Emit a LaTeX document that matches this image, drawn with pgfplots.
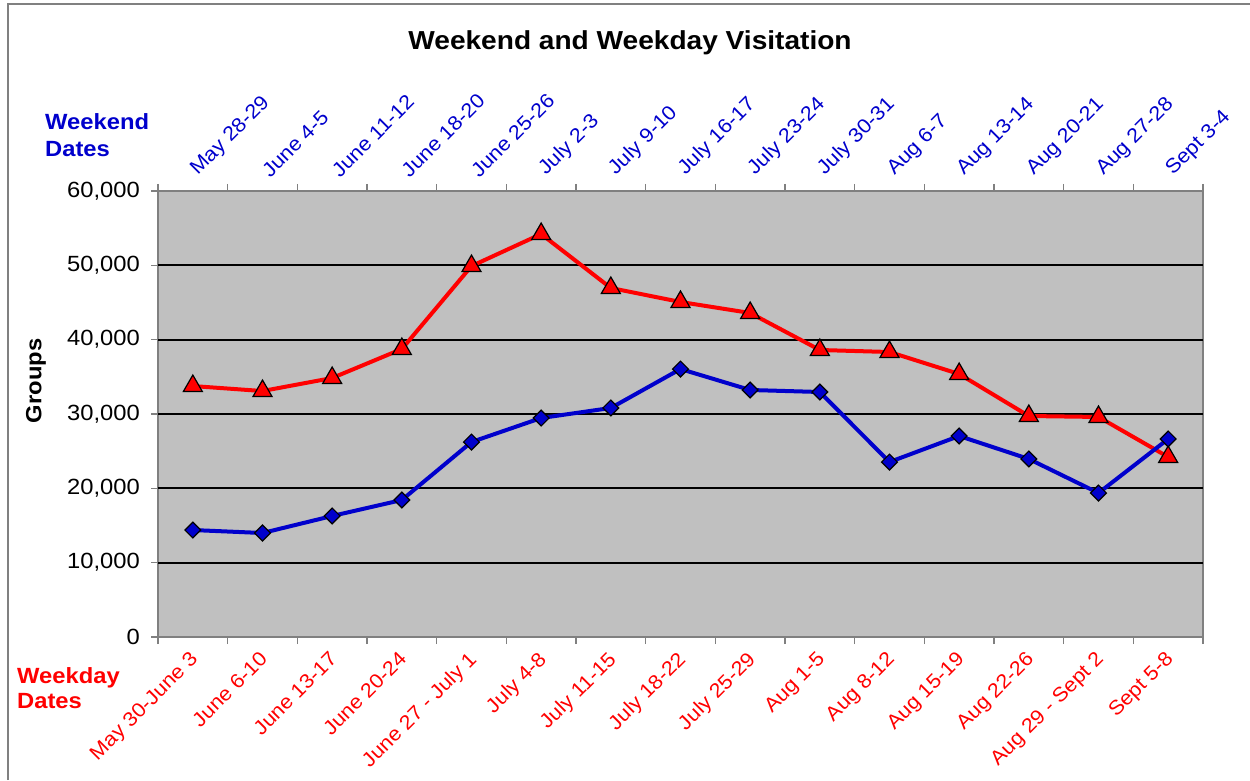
\documentclass[border=0pt]{standalone}
\usepackage{pgfplots}
\pgfplotsset{compat=1.18}
\usepackage{fontspec}
\setmainfont{Liberation Sans}[FakeStretch=1.08]
\definecolor{bgray}{HTML}{C0C0C0}
\definecolor{wblue}{HTML}{0000CC}
\definecolor{axgray}{HTML}{808080}
\begin{document}
\begin{tikzpicture}[x=1pt,y=1pt]
\useasboundingbox (0,0) rectangle (1250,780);
\draw[axgray, line width=2.5pt] (8,0) -- (8,776) -- (1250,776);
\node[font=\fontsize{26}{30}\selectfont\bfseries, anchor=base] at (630,730) {Weekend and Weekday Visitation};
\node[font=\fontsize{22}{24}\selectfont\bfseries, text=wblue, anchor=base west, inner sep=0pt] at (45,650) {Weekend};
\node[font=\fontsize{22}{24}\selectfont\bfseries, text=wblue, anchor=base west, inner sep=0pt] at (45,623) {Dates};
\node[font=\fontsize{22}{24}\selectfont\bfseries, text=red, anchor=base west, inner sep=0pt] at (17,97) {Weekday};
\node[font=\fontsize{22}{24}\selectfont\bfseries, text=red, anchor=base west, inner sep=0pt] at (17,72) {Dates};
\node[font=\fontsize{22}{24}\selectfont\bfseries, rotate=90, inner sep=0pt] at (36,399) {Groups};

\begin{axis}[
  at={(158pt,143pt)}, anchor=south west, scale only axis,
  width=1045pt, height=446pt,
  xmin=0.5, xmax=15.5, ymin=0, ymax=60000,
  scaled y ticks=false,
  axis background/.style={fill=bgray},
  axis line style={axgray, line width=2pt},
  xtick={0.5,1.5,...,15.5}, x tick label as interval,
  xticklabels={May 30-June 3,June 6-10,June 13-17,June 20-24,June 27 - July 1,July 4-8,July 11-15,July 18-22,July 25-29,Aug 1-5,Aug 8-12,Aug 15-19,Aug 22-26,Aug 29 - Sept 2,Sept 5-8},
  xtick pos=left, ytick pos=left,
  tick align=outside, major tick length=7pt,
  tick style={axgray, line width=1.5pt},
  ytick={0,10000,20000,30000,40000,50000,60000},
  yticklabels={0,{10,000},{20,000},{30,000},{40,000},{50,000},{60,000}},
  yticklabel style={font=\fontsize{22}{24}\selectfont, inner sep=0pt, anchor=east, xshift=-11pt},
  xticklabel style={font=\fontsize{20}{22}\selectfont, text=red, inner sep=0pt, xshift=-4pt, yshift=-6pt, rotate=45, anchor=north east},
  extra y ticks={10000,20000,30000,40000,50000},
  extra y tick labels={},
  extra y tick style={grid=major, major grid style={black, line width=2pt}, major tick length=0pt},
]
\addplot[red, line width=4pt, mark=triangle*, mark size=11pt, mark options={fill=red, draw=black, line width=1.2pt}] coordinates {
(1,33760) (2,33090) (3,34840) (4,38740) (5,49900) (6,54210) (7,46950) (8,45070) (9,43590) (10,38610) (11,38340) (12,35380) (13,29730) (14,29600) (15,24220)};
\addplot[wblue, line width=4pt, mark=square*, mark size=5.6pt, mark options={rotate=45, fill=wblue, draw=black, line width=1.2pt}] coordinates {
(1,14390) (2,13990) (3,16280) (4,18430) (5,26230) (6,29460) (7,30810) (8,36050) (9,33230) (10,32960) (11,23540) (12,27040) (13,23950) (14,19370) (15,26640)};
\end{axis}

\begin{axis}[
  at={(158pt,143pt)}, anchor=south west, scale only axis,
  width=1045pt, height=446pt,
  xmin=0.5, xmax=15.5, ymin=0, ymax=60000,
  hide y axis,
  axis line style={axgray, line width=2pt},
  xtick={0.5,1.5,...,15.5}, x tick label as interval,
  xticklabels={May 28-29,June 4-5,June 11-12,June 18-20,June 25-26,July 2-3,July 9-10,July 16-17,July 23-24,July 30-31,Aug 6-7,Aug 13-14,Aug 20-21,Aug 27-28,Sept 3-4},
  xtick pos=right, xticklabel pos=right,
  tick align=outside, major tick length=7pt,
  tick style={axgray, line width=1.5pt},
  xticklabel style={font=\fontsize{20}{22}\selectfont, text=wblue, inner sep=0pt, xshift=8pt, yshift=5pt, rotate=45, anchor=south west},
]
\addplot[draw=none] coordinates {(1,0)};
\end{axis}
\end{tikzpicture}
\end{document}
